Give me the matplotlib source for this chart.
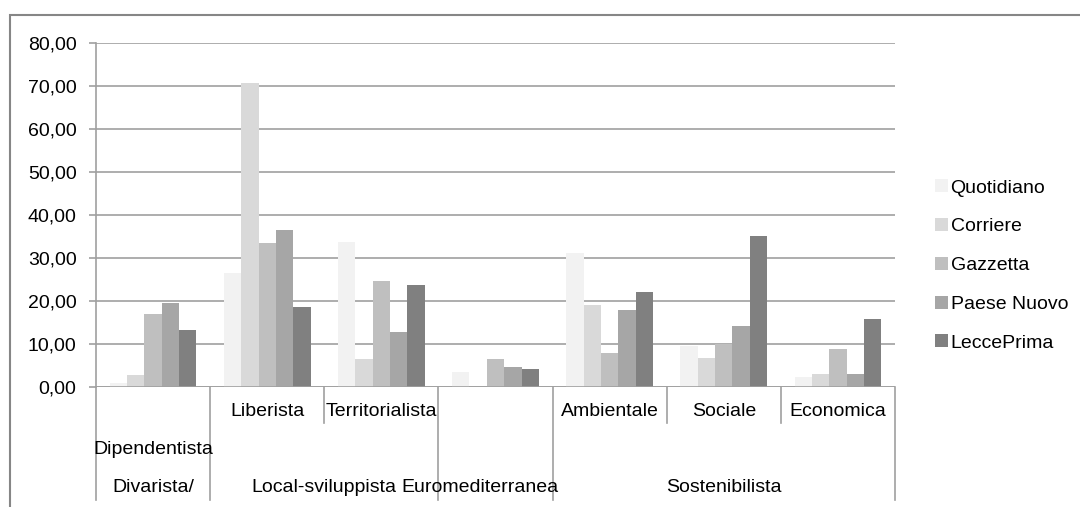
import numpy as np
import matplotlib
matplotlib.use('Agg')
import matplotlib.pyplot as plt
from matplotlib.patches import Rectangle
from matplotlib.ticker import FuncFormatter, MultipleLocator

plt.rcParams['font.family'] = ['Liberation Sans', 'DejaVu Sans']

# categorie (sottocategoria, categoria principale)
sub_labels = ['Dipendentista', 'Liberista', 'Territorialista', '',
              'Ambientale', 'Sociale', 'Economica']
main_labels = ['Divarista/', 'Local-sviluppista', 'Euromediterranea', 'Sostenibilista']
main_spans = [(0, 1), (1, 3), (3, 4), (4, 7)]

series = ['Quotidiano', 'Corriere', 'Gazzetta', 'Paese Nuovo', 'LeccePrima']
quotidiano = [1.0, 26.4, 33.8, 3.5, 31.2, 9.5, 2.3]
corriere = [2.9, 70.7, 6.6, 0.0, 19.0, 6.7, 3.0]
gazzetta = [16.9, 33.6, 24.7, 6.6, 7.8, 10.1, 8.9]
paese_nuovo = [19.5, 36.4, 12.9, 4.65, 17.8, 14.1, 3.0]
lecceprima = [13.2, 18.7, 23.8, 4.3, 22.1, 35.2, 15.8]
valori = [quotidiano, corriere, gazzetta, paese_nuovo, lecceprima]
colori = ['#f2f2f2', '#d9d9d9', '#bfbfbf', '#a6a6a6', '#808080']

FS = 14
W, H = 1080, 507
fig = plt.figure(figsize=(W / 100, H / 100), dpi=100)
ax = fig.add_axes([96 / W, 1 - 387 / H, 799 / W, 344 / H])

x = np.arange(len(sub_labels)) + 0.5
bw = 0.152
for i, (nome, v, c) in enumerate(zip(series, valori, colori)):
    ax.bar(x + (i - 2) * bw, v, bw, color=c, label=nome, zorder=3)

ax.set_xlim(0, 7)
ax.set_ylim(0, 80)
ax.yaxis.set_major_locator(MultipleLocator(10))
ax.yaxis.set_major_formatter(FuncFormatter(lambda v, p: f'{v:.2f}'.replace('.', ',')))
ax.grid(axis='y', color='#a0a0a0', linewidth=1.2, zorder=0)
ax.set_xticks([])
for s in ['top', 'right', 'bottom']:
    ax.spines[s].set_visible(False)
ax.spines['left'].set_color('#a0a0a0')
ax.spines['left'].set_linewidth(1.2)
ax.tick_params(axis='y', length=5, width=1.2, color='#a0a0a0', labelsize=FS, pad=9)
ax.axhline(0, color='#a0a0a0', linewidth=1.2, zorder=4)

# asse delle categorie a due livelli
tr = ax.get_xaxis_transform()
def yf(py):
    return -(py - 387) / 344

for k in range(8):
    lungo = k in (0, 1, 3, 4, 7)
    ax.plot([k, k], [0, yf(500 if lungo else 423)], transform=tr,
            color='#a0a0a0', linewidth=1.2, clip_on=False)
for k, lab in enumerate(sub_labels):
    if k == 0:
        ax.text(0.5, yf(450), lab, transform=tr, ha='center', va='center', fontsize=FS)
    elif lab:
        ax.text(k + 0.5, yf(412), lab, transform=tr, ha='center', va='center', fontsize=FS)
for lab, (a, b) in zip(main_labels, main_spans):
    cx = (a + b) / 2
    if lab == 'Euromediterranea':
        cx -= 0.14
    ax.text(cx, yf(487), lab, transform=tr, ha='center', va='center', fontsize=FS)

fig.legend(loc='center left', bbox_to_anchor=(935 / W, 1 - 265.5 / H), frameon=False,
           fontsize=FS, handlelength=0.65, handleheight=0.65, handletextpad=0.15,
           labelspacing=1.1, borderpad=0, borderaxespad=0)

fig.patches.append(Rectangle((10 / W, -0.1), 1.0, 1.1 - 15 / H, transform=fig.transFigure,
                             fill=False, edgecolor='#868686', linewidth=1.5))

fig.savefig('out.png', dpi=100)
